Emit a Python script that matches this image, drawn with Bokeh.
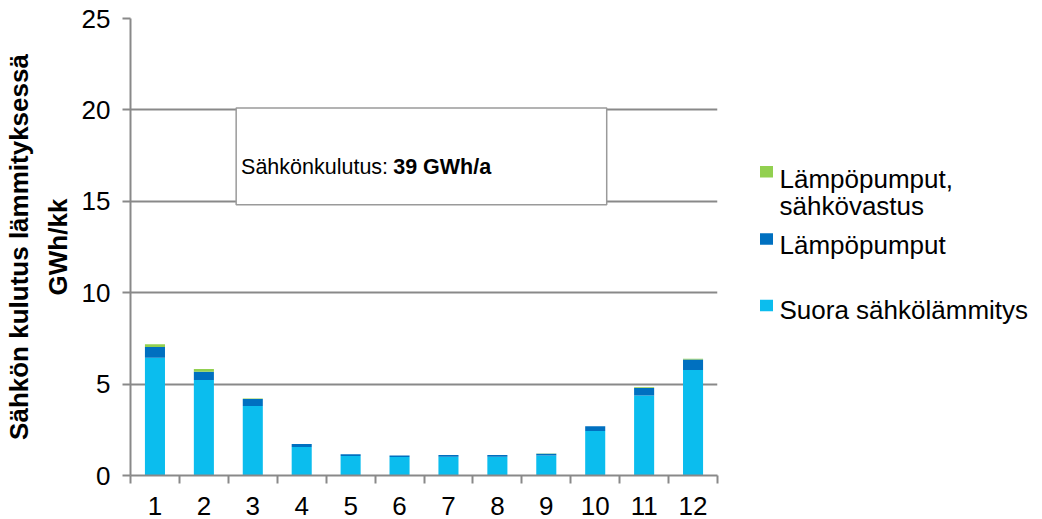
from bokeh.plotting import figure
from bokeh.models import Range1d, FixedTicker, ColumnDataSource
from bokeh.layouts import row
from bokeh.embed import file_html
from bokeh.resources import INLINE
from bokeh.core.properties import value

# ---- data ----
months = [1, 2, 3, 4, 5, 6, 7, 8, 9, 10, 11, 12]
suora = [6.44, 5.22, 3.80, 1.56, 1.07, 1.01, 1.03, 1.03, 1.10, 2.43, 4.37, 5.77]
lampo = [0.59, 0.45, 0.38, 0.16, 0.09, 0.09, 0.09, 0.09, 0.09, 0.26, 0.42, 0.57]
vastus = [0.15, 0.15, 0.03, 0.01, 0.0, 0.0, 0.0, 0.0, 0.01, 0.01, 0.04, 0.04]
series_names = ["Suora sähkölämmitys", "Lämpöpumput", "Lämpöpumput,\nsähkövastus"]
series_colors = ["#0BBDEE", "#0070C0", "#92D050"]
y_ticks = [0, 5, 10, 15, 20, 25]
y_label = "Sähkön kulutus lämmityksessä\nGWh/kk"
note_normal = "Sähkönkulutus:"
note_bold = "39 GWh/a"

FONT = "Liberation Sans"
GRAY = "#898989"

src = ColumnDataSource(dict(month=months, suora=suora, lampo=lampo, vastus=vastus))

p = figure(width=733, height=519, x_range=Range1d(0.5, 12.5), y_range=Range1d(0, 25),
           toolbar_location=None, output_backend="svg", title=None,
           min_border_left=128, min_border_top=18, min_border_right=16, min_border_bottom=44)
p.outline_line_color = None
p.background_fill_color = "white"

p.vbar_stack(["suora", "lampo", "vastus"], x="month", width=0.41, color=series_colors,
             source=src, line_color=None)

# annotation box
p.quad(left=[2.66], right=[10.235], bottom=[14.81], top=[20.11],
       fill_color="white", line_color="#9a9a9a", line_width=1.5)
p.text(x=[2.76], y=[16.9], text=[note_normal], text_font=value(FONT),
       text_font_size=value("21.5px"), text_baseline="alphabetic", text_align="left",
       text_color="black")
p.text(x=[5.87], y=[16.9], text=[note_bold], text_font=value(FONT),
       text_font_size=value("21.5px"), text_font_style="bold", text_baseline="alphabetic",
       text_align="left", text_color="black")

# grid
p.xgrid.visible = False
p.ygrid.ticker = FixedTicker(ticks=y_ticks)
p.ygrid.grid_line_color = GRAY
p.ygrid.grid_line_width = 2

# y axis
ya = p.yaxis[0]
ya.ticker = FixedTicker(ticks=y_ticks)
ya.axis_line_color = GRAY
ya.axis_line_width = 2
ya.major_tick_line_color = GRAY
ya.major_tick_line_width = 2
ya.major_tick_out = 8
ya.major_tick_in = 0
ya.minor_tick_line_color = None
ya.major_label_text_font = FONT
ya.major_label_text_font_size = "26px"
ya.major_label_text_color = "black"
ya.major_label_standoff = 12
ya.axis_label = y_label
ya.axis_label_text_font = FONT
ya.axis_label_text_font_size = "26px"
ya.axis_label_text_font_style = "bold"
ya.axis_label_text_color = "black"
ya.axis_label_text_line_height = 1.3
ya.axis_label_standoff = 6

# x axis
xa = p.xaxis[0]
xa.ticker = FixedTicker(ticks=months, minor_ticks=[m - 0.5 for m in months] + [12.5])
xa.axis_line_color = GRAY
xa.axis_line_width = 2
xa.major_tick_line_color = None
xa.major_tick_out = 0
xa.major_tick_in = 0
xa.minor_tick_line_color = GRAY
xa.minor_tick_line_width = 2
xa.minor_tick_out = 8
xa.minor_tick_in = 0
xa.major_label_text_font = FONT
xa.major_label_text_font_size = "26px"
xa.major_label_text_color = "black"
xa.major_label_standoff = 13

# ---- legend panel ----
lg = figure(width=309, height=519, x_range=Range1d(0, 309), y_range=Range1d(519, 0),
            toolbar_location=None, output_backend="svg", title=None,
            x_axis_type=None, y_axis_type=None, min_border=0)
lg.outline_line_color = None
lg.grid.visible = False

leg_order = [2, 1, 0]
sq_y = [174, 250.5, 326]
txt_y = [182, 257, 331]
lg.rect(x=[33, 33, 33], y=sq_y, width=13, height=13,
        fill_color=[series_colors[i] for i in leg_order], line_color=None)
lines_x, lines_y, lines_t = [], [], []
for k, i in enumerate(leg_order):
    parts = series_names[i].split("\n")
    for j, part in enumerate(parts):
        lines_x.append(46)
        lines_y.append(txt_y[k] + 31 * j)
        lines_t.append(part)
lg.text(x=lines_x, y=lines_y, text=lines_t, text_font=value(FONT),
        text_font_size=value("26px"), text_baseline="alphabetic", text_align="left",
        text_color="black")

layout = row(p, lg)
open("out.html", "w").write(file_html(layout, INLINE))
